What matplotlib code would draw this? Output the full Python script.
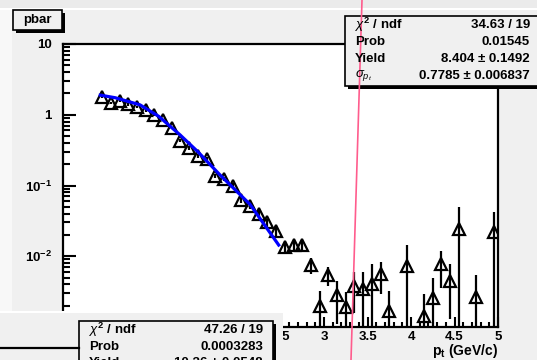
import numpy as np
import matplotlib
matplotlib.use("Agg")
import matplotlib.pyplot as plt
import matplotlib.ticker as tkr
from matplotlib.patches import Rectangle

plt.rcParams['font.family'] = ['Liberation Sans', 'DejaVu Sans']
plt.rcParams['mathtext.fontset'] = 'custom'
plt.rcParams['mathtext.rm'] = 'Liberation Sans:bold'
plt.rcParams['mathtext.bf'] = 'Liberation Sans:bold'
plt.rcParams['mathtext.it'] = 'Liberation Sans:italic'

# ---- data ----
pt = [0.45, 0.55, 0.65, 0.75, 0.85, 0.95, 1.05, 1.15, 1.25, 1.35,
      1.45, 1.55, 1.65, 1.75, 1.85, 1.95, 2.05, 2.15, 2.25, 2.35,
      2.45, 2.55, 2.65, 2.75, 2.85, 2.95, 3.05, 3.15, 3.25, 3.35,
      3.45, 3.55, 3.65, 3.75, 3.95, 4.15, 4.25, 4.35, 4.45, 4.55,
      4.75, 4.95]
yld = [1.78, 1.45, 1.55, 1.40, 1.30, 1.15, 1.00, 0.85, 0.65, 0.43,
       0.34, 0.26, 0.24, 0.135, 0.125, 0.10, 0.063, 0.052, 0.040, 0.030,
       0.023, 0.0134, 0.0142, 0.0142, 0.0076, 0.0020, 0.0054, 0.0028, 0.0019, 0.0038,
       0.0034, 0.0040, 0.0056, 0.0017, 0.0073, 0.00144, 0.0026, 0.0077, 0.0045, 0.024,
       0.00265, 0.0218]
err = [0.06, 0.05, 0.05, 0.05, 0.05, 0.04, 0.04, 0.035, 0.03, 0.02,
       0.018, 0.015, 0.014, 0.009, 0.009, 0.008, 0.006, 0.005, 0.0045, 0.004,
       0.0035, 0.0025, 0.0026, 0.0026, 0.002, 0.0012, 0.0016, 0.0017, 0.0012, 0.0022,
       0.0026, 0.0037, 0.0027, 0.0015, 0.0069, 0.0015, 0.0023, 0.0041, 0.0032, 0.025,
       0.0028, 0.021]

fit_x = [0.41, 0.60, 0.885, 1.10, 1.345, 1.55, 1.80, 2.15, 2.49]
fit_y = [1.91, 1.74, 1.38, 0.95, 0.52, 0.30, 0.143, 0.054, 0.0138]

stats_top = [(r'$\chi^{2}$ / ndf', '34.63 / 19'), ('Prob', '0.01545'),
             ('Yield', u'8.404 \u00b1 0.1492'), (r'$\sigma_{p_{t}}$', u'0.7785 \u00b1 0.006837')]
stats_low = [(r'$\chi^{2}$ / ndf', '47.26 / 19'), ('Prob', '0.0003283'),
             ('Yield', u'10.36 \u00b1 0.0548')]

W, H = 537, 360
fig = plt.figure(figsize=(W / 100, H / 100), dpi=100, facecolor='#f8f8f8')

# background canvas pieces (pixel coords)
bg = fig.add_axes([0, 0, 1, 1], zorder=0)
bg.set_xlim(0, W)
bg.set_ylim(H, 0)
bg.axis('off')
bg.add_patch(Rectangle((0, 0), W, 8, color='#ebebeb', lw=0))
bg.add_patch(Rectangle((0, 8), W, 2, color='white', lw=0))
bg.add_patch(Rectangle((12, 10), W - 12, H - 10, color='#f0f0f0', lw=0))

# ---- main pad ----
ax = fig.add_axes([63 / W, 33 / H, 435 / W, 283 / H], zorder=1)
ax.set_facecolor('white')
ax.set_yscale('log')
ax.set_xlim(0, 5)
ax.set_ylim(1e-3, 10)

y = np.array(yld)
e = np.array(err)
lo = y - np.maximum(y - e, 2e-4)
ax.errorbar(pt, yld, yerr=[lo, e], fmt='none', ecolor='black', elinewidth=1.6, capsize=0, zorder=2)
ax.plot(pt, yld, linestyle='none', marker='^', ms=9, mfc='none', mec='black', mew=1.6, zorder=3)
ax.plot(fit_x, fit_y, color='#0000ff', lw=2.3, zorder=4, solid_capstyle='butt')

for s in ax.spines.values():
    s.set_linewidth(1.6)

# labels below 2.5 sit under the second canvas, so leave them empty
ax.xaxis.set_major_locator(tkr.MultipleLocator(0.5))
ax.xaxis.set_minor_locator(tkr.MultipleLocator(0.1))
ax.xaxis.set_major_formatter(tkr.FuncFormatter(lambda v, p: '%g' % v if v > 2.4 else ''))
ax.yaxis.set_major_locator(tkr.LogLocator(base=10, numticks=10))
ax.yaxis.set_minor_locator(tkr.LogLocator(base=10, subs=np.arange(2, 10), numticks=10))
ylab = {10.0: '10', 1.0: '1', 0.1: r'$10^{-1}$', 0.01: r'$10^{-2}$'}
ax.yaxis.set_major_formatter(tkr.FuncFormatter(lambda v, p: ylab.get(round(v, 6), '')))
ax.yaxis.set_minor_formatter(tkr.NullFormatter())
ax.tick_params(axis='both', which='both', direction='in', top=False, right=False, width=1.5)
ax.tick_params(axis='y', which='major', length=9.5, pad=8, labelsize=9.5)
ax.tick_params(axis='y', which='minor', length=5)
ax.tick_params(axis='x', which='major', length=7, pad=3, labelsize=9.5)
ax.tick_params(axis='x', which='minor', length=3.6)
for lab in ax.get_xticklabels() + ax.get_yticklabels():
    lab.set_fontweight('bold')

# ---- overlay: boxes, lower canvas, pink line ----
ov = fig.add_axes([0, 0, 1, 1], zorder=3)
ov.set_xlim(0, W)
ov.set_ylim(H, 0)
ov.axis('off')

ov.text(498, 351, r'p$_{\mathregular{t}}$ (GeV/c)', ha='right', va='center', fontsize=10, fontweight='bold')

# pad title "pbar"
ov.add_patch(Rectangle((16, 13), 49, 20, facecolor='black', lw=0))
ov.add_patch(Rectangle((13, 10), 49, 20, facecolor='#f0f0f0', edgecolor='black', lw=1.2))
ov.text(37.5, 20, 'pbar', ha='center', va='center', fontsize=9.5, fontweight='bold')

# top-right stats box
ov.add_patch(Rectangle((348, 19), 200, 70, facecolor='black', lw=0))
ov.add_patch(Rectangle((345, 16), 200, 70, facecolor='#f0f0f0', edgecolor='black', lw=1.2))
for i, (k, v) in enumerate(stats_top):
    yy = 25 + i * 17
    ov.text(355, yy, k, ha='left', va='center', fontsize=9.5, fontweight='bold')
    ov.text(530, yy, v, ha='right', va='center', fontsize=9.5, fontweight='bold')

# lower canvas covering the bottom-left
ov.add_patch(Rectangle((0, 311), 284, 2, color='white', lw=0))
ov.add_patch(Rectangle((0, 313), 283, 50, color='#f0f0f0', lw=0))
ov.plot([0, 79], [348, 348], color='black', lw=1.6)
ov.add_patch(Rectangle((82, 324), 194, 50, facecolor='black', lw=0))
ov.add_patch(Rectangle((79, 321), 194, 50, facecolor='#f0f0f0', edgecolor='black', lw=1.2))
for i, (k, v) in enumerate(stats_low):
    yy = 330 + i * 16.5
    ov.text(89, yy, k, ha='left', va='center', fontsize=9.5, fontweight='bold')
    ov.text(263, yy, v, ha='right', va='center', fontsize=9.5, fontweight='bold')

# pink marker line
ov.plot([362, 351], [0, 360], color='#ff5c8d', lw=1.2)

fig.savefig('out.png', dpi=100, facecolor=fig.get_facecolor())
